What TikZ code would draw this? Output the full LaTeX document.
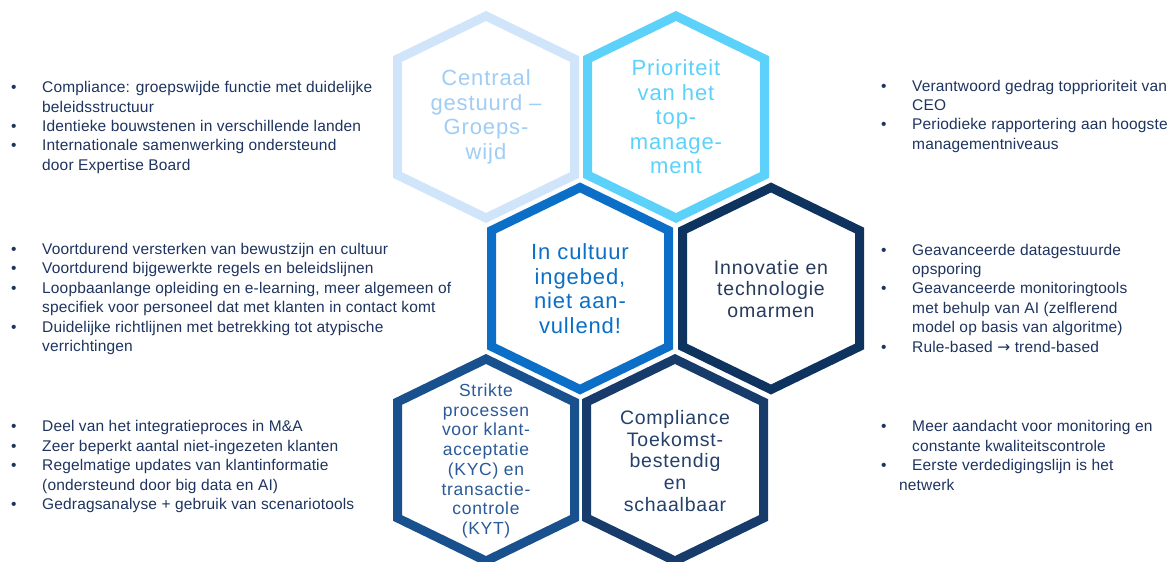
\documentclass[tikz,border=0pt]{standalone}
\usepackage{fontspec}
\setmainfont{Liberation Sans}
\newfontfamily\hexfont{Liberation Sans}[LetterSpace=4]
\newfontfamily\listfont{Liberation Sans}[LetterSpace=1]
\newfontfamily\arrowfont{DejaVu Sans}

% palette
\definecolor{paleblue}{RGB}{208,229,250}
\definecolor{paletext}{RGB}{160,205,245}
\definecolor{skyblue}{RGB}{92,210,251}
\definecolor{midblue}{RGB}{11,111,200}
\definecolor{navy}{RGB}{15,51,95}
\definecolor{navytext}{RGB}{38,58,92}
\definecolor{steelblue}{RGB}{25,80,142}
\definecolor{steeltext}{RGB}{42,90,152}
\definecolor{deepblue}{RGB}{23,59,107}
\definecolor{deeptext}{RGB}{37,64,107}
\definecolor{listtext}{RGB}{30,52,95}

% bullet marker and continuation indent for the lists
\newcommand\itm{\makebox[31pt][l]{\textbullet}}
\newcommand\cnt{\hspace*{31pt}}

\begin{document}
\begin{tikzpicture}[x=1pt,y=-1pt,
  hexagon/.pic={
    \draw[pic actions, line width=9pt, line join=miter]
      (0,-101) -- (88.5,-58) -- (88.5,58) -- (0,101)
      -- (-88.5,58) -- (-88.5,-58) -- cycle;
  },
  hextext/.style={align=center, inner sep=0pt,
    font=\hexfont\fontsize{22}{24.5}\selectfont},
  hexsmall/.style={align=center, inner sep=0pt,
    font=\hexfont\fontsize{19.5}{21.8}\selectfont},
  hextiny/.style={align=center, inner sep=0pt,
    font=\hexfont\fontsize{17.5}{19.7}\selectfont},
  listbox/.style={align=left, inner sep=0pt, anchor=north west,
    text=listtext, font=\listfont\fontsize{15.5}{19.4}\selectfont},
]
\useasboundingbox (0,0) rectangle (1176,562);
\fill[white] (0,0) rectangle (1176,562);

% honeycomb
\pic[draw=paleblue]  at (486,117)   {hexagon};
\pic[draw=skyblue]   at (676,117)   {hexagon};
\pic[draw=midblue]   at (580,288.5) {hexagon};
\pic[draw=navy]      at (771,288.5) {hexagon};
\pic[draw=steelblue] at (486,460)   {hexagon};
\pic[draw=deepblue]  at (675,460)   {hexagon};

\node[hextext, text=paletext] (central) at (486,117)
  {Centraal\\gestuurd –\\Groeps-\\wijd};
\node[hextext, text=skyblue] (prio) at (676,117)
  {Prioriteit\\van het\\top-\\manage-\\ment};
\node[hextext, text=midblue] (cultuur) at (580,288.5)
  {In cultuur\\ingebed,\\niet aan-\\vullend!};
\node[hexsmall, text=navytext] (innov) at (771,289)
  {Innovatie en\\technologie\\omarmen};
\node[hextiny, text=steeltext] (strikt) at (486,461)
  {Strikte\\processen\\voor klant-\\acceptatie\\(KYC) en\\transactie-\\controle\\(KYT)};
\node[hexsmall, text=deeptext] (toekomst) at (675,461)
  {Compliance\\Toekomst-\\bestendig\\en\\schaalbaar};

% left lists
\node[listbox] (ltop) at (11,78.9) {%
  \strut\itm Compliance: groepswijde functie met duidelijke\\
  \cnt beleidsstructuur\\
  \itm Identieke bouwstenen in verschillende landen\\
  \itm Internationale samenwerking ondersteund\\
  \cnt door Expertise Board};
\node[listbox] (lmid) at (11,240.7) {%
  \strut\itm Voortdurend versterken van bewustzijn en cultuur\\
  \itm Voortdurend bijgewerkte regels en beleidslijnen\\
  \itm Loopbaanlange opleiding en e-learning, meer algemeen of\\
  \cnt specifiek voor personeel dat met klanten in contact komt\\
  \itm Duidelijke richtlijnen met betrekking tot atypische\\
  \cnt verrichtingen};
\node[listbox] (lbot) at (11,418.1) {%
  \strut\itm Deel van het integratieproces in M\&A\\
  \itm Zeer beperkt aantal niet-ingezeten klanten\\
  \itm Regelmatige updates van klantinformatie\\
  \cnt (ondersteund door big data en AI)\\
  \itm Gedragsanalyse + gebruik van scenariotools};

% right lists
\node[listbox] (rtop) at (881,77.4) {%
  \strut\itm Verantwoord gedrag topprioriteit van\\
  \cnt CEO\\
  \itm Periodieke rapportering aan hoogste\\
  \cnt managementniveaus};
\node[listbox] (rmid) at (881,241.4) {%
  \strut\itm Geavanceerde datagestuurde\\
  \cnt opsporing\\
  \itm Geavanceerde monitoringtools\\
  \cnt met behulp van AI (zelflerend\\
  \cnt model op basis van algoritme)\\
  \itm Rule-based {\arrowfont →} trend-based};
\node[listbox] (rbot) at (881,418.1) {%
  \strut\itm Meer aandacht voor monitoring en\\
  \cnt constante kwaliteitscontrole\\
  \itm Eerste verdedigingslijn is het\\
  \hspace*{18pt}netwerk};
\end{tikzpicture}
\end{document}
